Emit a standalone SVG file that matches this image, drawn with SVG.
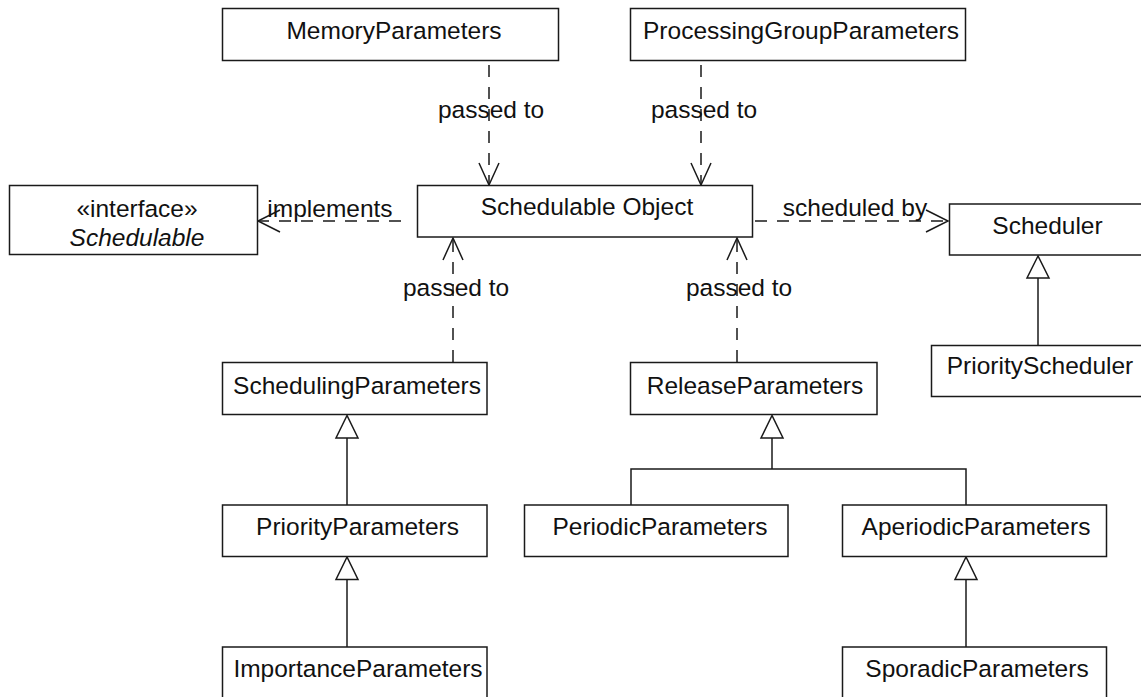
<svg xmlns="http://www.w3.org/2000/svg" width="1141" height="697" viewBox="0 0 1141 697">
  <style>
    .box { fill: #ffffff; stroke: #1a1a1a; stroke-width: 1.5; }
    text { font-family: "Liberation Sans", Arial, sans-serif; font-size: 24.5px; fill: #111111; text-anchor: middle; }
    .it { font-style: italic; }
    .dep { fill: none; stroke: #1a1a1a; stroke-width: 1.5; stroke-dasharray: 12 10; }
    .solid { fill: none; stroke: #1a1a1a; stroke-width: 1.5; }
    .open { fill: none; stroke: #1a1a1a; stroke-width: 1.5; stroke-linejoin: miter; }
    .tri { fill: #ffffff; stroke: #1a1a1a; stroke-width: 1.5; stroke-linejoin: miter; }
  </style>
  <rect width="1141" height="697" fill="#ffffff"/>

  <!-- connectors -->
  <g id="connectors">
    <!-- MemoryParameters -> Schedulable Object -->
    <line class="dep" x1="489" y1="65" x2="489" y2="185"/>
    <polyline class="open" points="479,163 489,185 499,163"/>
    <text x="491" y="118">passed to</text>

    <!-- ProcessingGroupParameters -> Schedulable Object -->
    <line class="dep" x1="701" y1="65" x2="701" y2="185"/>
    <polyline class="open" points="691,163 701,185 711,163"/>
    <text x="704" y="118">passed to</text>

    <!-- SchedulingParameters -> Schedulable Object -->
    <line class="dep" x1="453" y1="362" x2="453" y2="238"/>
    <polyline class="open" points="443,260 453,238 463,260"/>
    <text x="456" y="296">passed to</text>

    <!-- ReleaseParameters -> Schedulable Object -->
    <line class="dep" x1="737" y1="362" x2="737" y2="238"/>
    <polyline class="open" points="727,260 737,238 747,260"/>
    <text x="739" y="296">passed to</text>

    <!-- Schedulable Object implements Schedulable -->
    <line class="dep" x1="401" y1="221" x2="258" y2="221"/>
    <polyline class="open" points="280,210 258,221 280,232"/>
    <text x="330" y="217">implements</text>

    <!-- Schedulable Object scheduled by Scheduler -->
    <line class="dep" x1="755" y1="221" x2="948" y2="221"/>
    <polyline class="open" points="926,210 948,221 926,232"/>
    <text x="855" y="216">scheduled by</text>

    <!-- PriorityScheduler extends Scheduler -->
    <line class="solid" x1="1038" y1="345" x2="1038" y2="278"/>
    <polygon class="tri" points="1038,256 1027,278 1049,278"/>

    <!-- PriorityParameters extends SchedulingParameters -->
    <line class="solid" x1="347" y1="505" x2="347" y2="438"/>
    <polygon class="tri" points="347,415.5 336,438 358,438"/>

    <!-- ImportanceParameters extends PriorityParameters -->
    <line class="solid" x1="347" y1="647" x2="347" y2="579.5"/>
    <polygon class="tri" points="347,557 336,579.5 358,579.5"/>

    <!-- Periodic / Aperiodic extend ReleaseParameters -->
    <polyline class="solid" points="631,505 631,469 966,469 966,505"/>
    <line class="solid" x1="772" y1="469" x2="772" y2="438"/>
    <polygon class="tri" points="772,415.5 761,438 783,438"/>

    <!-- SporadicParameters extends AperiodicParameters -->
    <line class="solid" x1="966" y1="647" x2="966" y2="579.5"/>
    <polygon class="tri" points="966,557 955,579.5 977,579.5"/>
  </g>

  <!-- nodes -->
  <g id="memory-parameters">
    <rect class="box" x="222.5" y="8.5" width="336" height="52"/>
    <text x="394" y="39">MemoryParameters</text>
  </g>
  <g id="processing-group-parameters">
    <rect class="box" x="630.5" y="8.5" width="335" height="52"/>
    <text x="801" y="38.5">ProcessingGroupParameters</text>
  </g>
  <g id="schedulable-interface">
    <rect class="box" x="9.5" y="185.5" width="248" height="69"/>
    <text x="137" y="217">«interface»</text>
    <text class="it" x="137" y="245.5">Schedulable</text>
  </g>
  <g id="schedulable-object">
    <rect class="box" x="417.5" y="185.5" width="335" height="51.5"/>
    <text x="587" y="215">Schedulable Object</text>
  </g>
  <g id="scheduler">
    <rect class="box" x="949.5" y="204" width="200" height="51"/>
    <text x="1047.5" y="233.5">Scheduler</text>
  </g>
  <g id="priority-scheduler">
    <rect class="box" x="931.5" y="345.5" width="220" height="51"/>
    <text x="1040" y="374">PriorityScheduler</text>
  </g>
  <g id="scheduling-parameters">
    <rect class="box" x="222.5" y="362.5" width="264.5" height="52"/>
    <text x="357" y="393.5">SchedulingParameters</text>
  </g>
  <g id="release-parameters">
    <rect class="box" x="630.5" y="362.5" width="246.5" height="52"/>
    <text x="755" y="393.5">ReleaseParameters</text>
  </g>
  <g id="priority-parameters">
    <rect class="box" x="222.5" y="505" width="264.5" height="51.5"/>
    <text x="357.5" y="535">PriorityParameters</text>
  </g>
  <g id="periodic-parameters">
    <rect class="box" x="524.5" y="505" width="263.5" height="51.5"/>
    <text x="660" y="535">PeriodicParameters</text>
  </g>
  <g id="aperiodic-parameters">
    <rect class="box" x="842.5" y="505" width="264" height="51.5"/>
    <text x="976" y="535">AperiodicParameters</text>
  </g>
  <g id="importance-parameters">
    <rect class="box" x="222.5" y="647" width="264.5" height="60"/>
    <text x="358" y="677">ImportanceParameters</text>
  </g>
  <g id="sporadic-parameters">
    <rect class="box" x="842.5" y="647" width="264" height="60"/>
    <text x="977" y="677">SporadicParameters</text>
  </g>
</svg>
